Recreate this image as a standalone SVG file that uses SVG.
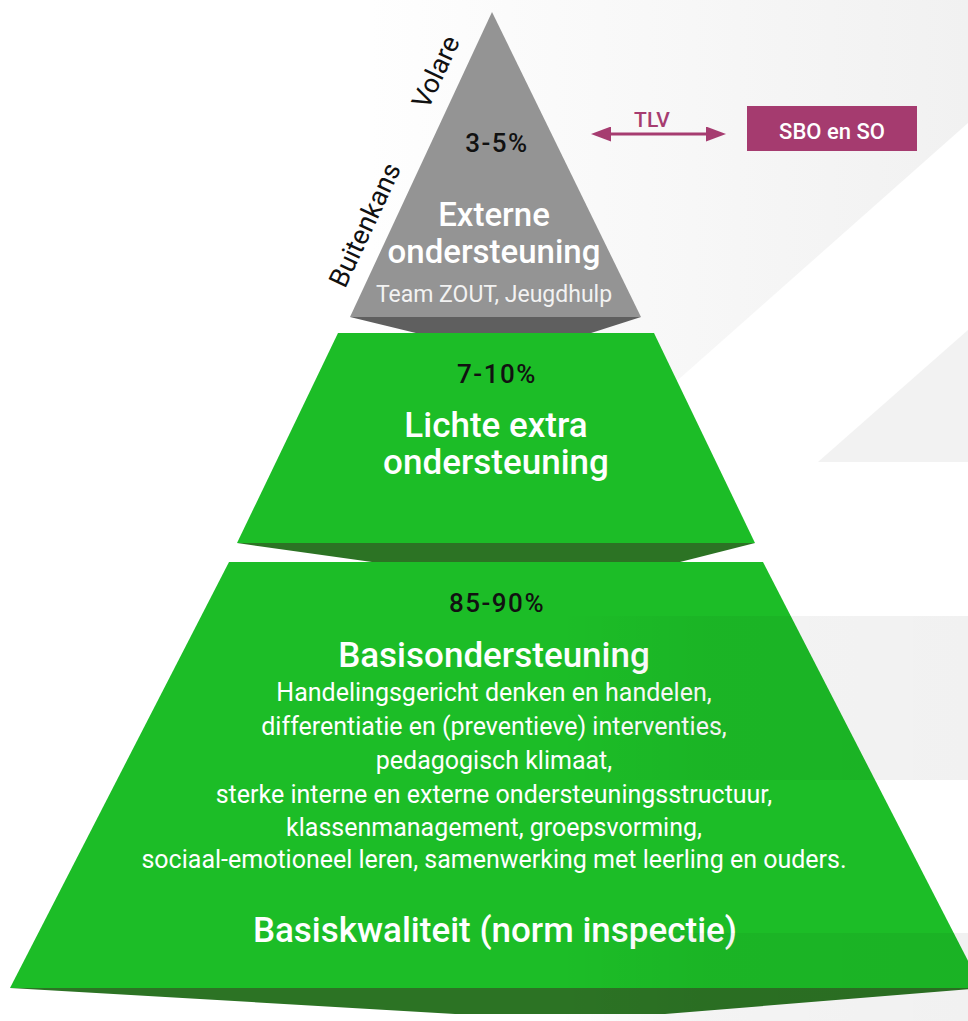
<svg xmlns="http://www.w3.org/2000/svg" width="968" height="1021" viewBox="0 0 968 1021">
  <defs>
    <linearGradient id="bgGrad" gradientUnits="userSpaceOnUse" x1="370" y1="0" x2="968" y2="0">
      <stop offset="0" stop-color="#fefefe"/>
      <stop offset="1" stop-color="#f1f1f1"/>
    </linearGradient>
    <linearGradient id="bandGrad" gradientUnits="userSpaceOnUse" x1="560" y1="0" x2="968" y2="0">
      <stop offset="0" stop-color="#000" stop-opacity="0"/>
      <stop offset="0.35" stop-color="#000" stop-opacity="0.045"/>
      <stop offset="1" stop-color="#000" stop-opacity="0.055"/>
    </linearGradient>
    <marker id="arrow" markerUnits="userSpaceOnUse" markerWidth="20" markerHeight="15" viewBox="0 0 20 15" refX="11" refY="7.5" orient="auto-start-reverse">
      <path d="M0,0 L20,7.5 L0,15 Z" fill="#a63c70"/>
    </marker>
    <style>
      .t { font-family: Roboto, "Liberation Sans", sans-serif; text-anchor: middle; }
      .pct { font-size: 26px; font-weight: 500; fill: #111; letter-spacing: 1.5px; }
      .title { font-size: 35px; font-weight: 500; fill: #ffffff; }
      .desc { font-size: 25px; font-weight: 400; fill: #ffffff; }
      .side { font-size: 27px; font-weight: 400; fill: #111; }
      .green { fill: #1cbd27; }
      .dgreen { fill: #2c7324; }
    </style>
  </defs>

  <g id="background">
    <rect x="0" y="0" width="968" height="1021" fill="#ffffff"/>
    <polygon points="370,0 968,0 968,123 661,395 370,395" fill="url(#bgGrad)"/>
    <polygon points="968,330 818,462 968,462" fill="#f2f2f2"/>
  </g>

  <g id="tier-top">
    <polygon points="350,317 641,317 588,334 420,334" fill="#5f5f5f"/>
    <polygon points="492,12 350,317 641,317" fill="#949494"/>
    <text class="t pct" x="497" y="152">3-5%</text>
    <text class="t title" x="494" y="226" style="font-size:33px">Externe</text>
    <text class="t title" x="494" y="263" style="font-size:33px">ondersteuning</text>
    <text class="t" x="494" y="302" style="font-size:23px;fill:#f2f2f2">Team ZOUT, Jeugdhulp</text>
  </g>

  <g id="tier-middle">
    <polygon class="dgreen" points="237,543 755,543 680,562 372,562"/>
    <polygon class="green" points="338,333 654,333 755,543 237,543"/>
    <text class="t pct" x="497" y="383">7-10%</text>
    <text class="t title" x="496" y="437">Lichte extra</text>
    <text class="t title" x="496" y="474">ondersteuning</text>
  </g>

  <g id="tier-base">
    <polygon class="dgreen" points="10,988 982,988 665,1014 455,1014"/>
    <polygon class="green" points="229,562 763,562 982,988 10,988"/>
    <text class="t pct" x="497" y="612">85-90%</text>
    <text class="t title" x="494" y="667">Basisondersteuning</text>
    <text class="t desc" x="494" y="701">Handelingsgericht denken en handelen,</text>
    <text class="t desc" x="494" y="735">differentiatie en (preventieve) interventies,</text>
    <text class="t desc" x="494" y="769">pedagogisch klimaat,</text>
    <text class="t desc" x="494" y="803">sterke interne en externe ondersteuningsstructuur,</text>
    <text class="t desc" x="494" y="836">klassenmanagement, groepsvorming,</text>
    <text class="t desc" x="494" y="868">sociaal-emotioneel leren, samenwerking met leerling en ouders.</text>
    <text class="t title" x="495" y="942">Basiskwaliteit (norm inspectie)</text>
  </g>

  <g id="band-overlays">
    <rect x="560" y="616" width="408" height="164" fill="url(#bandGrad)"/>
    <rect x="560" y="933" width="408" height="88" fill="url(#bandGrad)"/>
  </g>

  <g id="side-labels">
    <text class="t side" transform="translate(436,72) rotate(-65)" x="0" y="9">Volare</text>
    <text class="t side" transform="translate(365,225) rotate(-65)" x="0" y="9">Buitenkans</text>
  </g>

  <g id="sbo-node">
    <rect x="747" y="106" width="170" height="45" fill="#a53b6f"/>
    <text class="t" x="832" y="139" style="font-size:22px;font-weight:500;fill:#ffffff">SBO en SO</text>
  </g>

  <g id="connectors">
    <line x1="600" y1="134" x2="717" y2="134" stroke="#a63c70" stroke-width="3" marker-start="url(#arrow)" marker-end="url(#arrow)"/>
    <text class="t" x="652" y="127" style="font-size:21px;font-weight:500;fill:#a63c70">TLV</text>
  </g>
</svg>
